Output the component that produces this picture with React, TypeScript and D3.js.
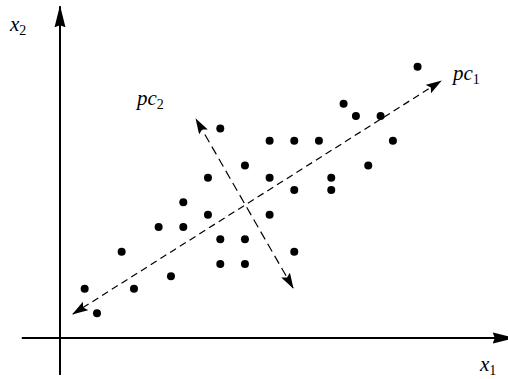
import * as d3 from 'd3';
import { useEffect, useRef } from 'react';

const WIDTH = 508, HEIGHT = 379;

// sample points, in grid units
const px = [2, 3, 5, 6, 8, 9, 10, 10, 12, 12, 13, 13, 13, 15, 15, 15, 17, 17, 17, 19, 19, 19, 21, 22, 22, 23, 24, 25, 26, 27, 29];
const py = [4, 2, 7, 4, 9, 5, 11, 9, 13, 10, 17, 8, 6, 14, 8, 6, 16, 13, 10, 16, 12, 7, 16, 13, 12, 19, 18, 14, 18, 16, 22];

// principal component directions (start, end)
const pc1 = [[1.05, 1.95], [30.9, 20.84]];
const pc2 = [[18.9, 4.06], [11.03, 17.76]];

const xAxisExtent = [-3.1, 36.8];
const yAxisExtent = [-3, 26.9];

const App = () => {
    const ref = useRef<SVGSVGElement>(null);

    useEffect(() => {
        const svg = d3.select(ref.current);
        svg.selectAll('*').remove();

        const x = d3.scaleLinear().domain([0, 36]).range([60, 60 + 36 * 12.33]);
        const y = d3.scaleLinear().domain([0, 27]).range([338, 338 - 27 * 12.33]);

        const defs = svg.append('defs');
        defs.append('marker')
            .attr('id', 'bigArrow')
            .attr('markerUnits', 'userSpaceOnUse')
            .attr('viewBox', '0 -6 22 12')
            .attr('refX', 21).attr('refY', 0)
            .attr('markerWidth', 22).attr('markerHeight', 12)
            .attr('orient', 'auto')
            .append('path')
            .attr('d', 'M0,-5.5L22,0L0,5.5L2,0Z')
            .attr('fill', '#000');

        defs.append('marker')
            .attr('id', 'smallArrow')
            .attr('markerUnits', 'userSpaceOnUse')
            .attr('viewBox', '0 -5 16 10')
            .attr('refX', 15).attr('refY', 0)
            .attr('markerWidth', 16).attr('markerHeight', 10)
            .attr('orient', 'auto-start-reverse')
            .append('path')
            .attr('d', 'M0,-5L16,0L0,5L3,0Z')
            .attr('fill', '#000');

        // axes
        svg.append('line')
            .attr('x1', x(xAxisExtent[0])).attr('y1', y(0))
            .attr('x2', x(xAxisExtent[1])).attr('y2', y(0))
            .attr('stroke', '#000').attr('stroke-width', 2)
            .attr('marker-end', 'url(#bigArrow)');
        svg.append('line')
            .attr('x1', x(0)).attr('y1', y(yAxisExtent[0]))
            .attr('x2', x(0)).attr('y2', y(yAxisExtent[1]))
            .attr('stroke', '#000').attr('stroke-width', 2)
            .attr('marker-end', 'url(#bigArrow)');

        // pc lines
        const line = d3.line<number[]>().x(d => x(d[0])).y(d => y(d[1]));
        svg.append('path')
            .attr('d', line(pc1))
            .attr('fill', 'none')
            .attr('stroke', '#000').attr('stroke-width', 1.2)
            .attr('stroke-dasharray', '7,4.5')
            .attr('marker-start', 'url(#smallArrow)')
            .attr('marker-end', 'url(#smallArrow)');
        svg.append('path')
            .attr('d', line(pc2))
            .attr('fill', 'none')
            .attr('stroke', '#000').attr('stroke-width', 1.2)
            .attr('stroke-dasharray', '9,5')
            .attr('marker-start', 'url(#smallArrow)')
            .attr('marker-end', 'url(#smallArrow)');

        // points
        svg.append('g')
            .selectAll('circle')
            .data(d3.range(px.length))
            .join('circle')
            .attr('cx', i => x(px[i]))
            .attr('cy', i => y(py[i]))
            .attr('r', 4)
            .attr('fill', '#000');

        // labels
        const label = (lx: number, ly: number, main: string, sub: string) => {
            const t = svg.append('text')
                .attr('x', lx).attr('y', ly)
                .attr('font-family', '"Liberation Serif", serif')
                .attr('font-size', 21);
            t.append('tspan').attr('font-style', 'italic').text(main);
            t.append('tspan').attr('font-size', 14).attr('dy', 4).text(sub);
        };
        label(10, 31, 'x', '2');
        label(480, 371, 'x', '1');
        label(453, 80, 'pc', '1');
        label(137, 105, 'pc', '2');
    }, []);

    return <svg ref={ref} width={WIDTH} height={HEIGHT} style={{ position: 'absolute', left: 0, top: 0 }} />;
};

export default App;
